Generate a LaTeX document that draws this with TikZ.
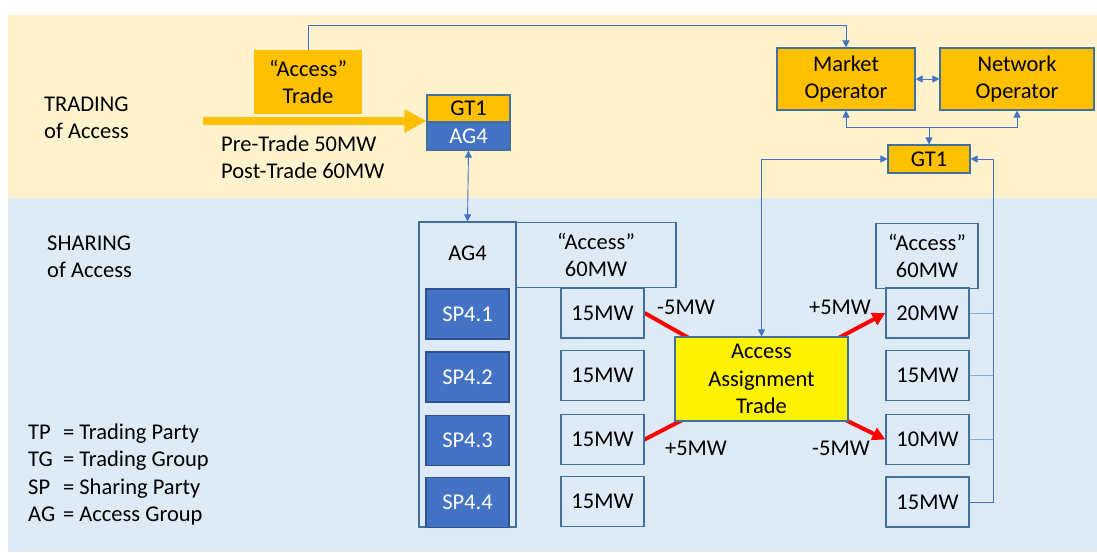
\documentclass[tikz,border=0pt]{standalone}
\usepackage{fontspec}
\setmainfont{Carlito}
\usetikzlibrary{arrows.meta}
\definecolor{bandY}{HTML}{FFF2CC}
\definecolor{bandB}{HTML}{DEEBF7}
\definecolor{orng}{HTML}{FFC000}
\definecolor{blueF}{HTML}{4472C4}
\definecolor{edge}{HTML}{41719C}
\definecolor{edgeD}{HTML}{2F528F}
\definecolor{wire}{HTML}{4472C4}
\definecolor{wireL}{HTML}{8FAADC}
\pgfdeclarelayer{bands}
\pgfdeclarelayer{back}
\pgfsetlayers{bands,back,main}
\tikzset{
  txt/.style={font=\fontsize{22.5}{27.5}\selectfont, inner sep=0pt},
  obox/.style={txt, fill=orng, align=center},
  mwbox/.style={txt, draw=edge, line width=1.1pt, minimum width=83pt, minimum height=50pt},
  spbox/.style={txt, draw=edgeD, line width=1.1pt, fill=blueF, text=white, minimum width=83pt, minimum height=50pt},
  accbox/.style={txt, draw=edge, line width=1.1pt, align=center},
  conn/.style={draw=wire, line width=0.9pt},
  tip/.style={-{Triangle[length=7pt,width=7pt]}},
  tips/.style={{Triangle[length=7pt,width=7pt]}-{Triangle[length=7pt,width=7pt]}},
  redline/.style={draw=red, line width=4pt},
  redtip/.style={-{Triangle[length=13pt,width=13pt]}}
}
\begin{document}
\begin{tikzpicture}[x=1pt,y=-1pt]
\useasboundingbox (0,0) rectangle (1097,552);
\begin{pgfonlayer}{bands}
  \fill[bandY] (8,15) rectangle (1097,197.5);
  \fill[bandB] (8,197.5) rectangle (1097,552);
\end{pgfonlayer}

% side captions
\node[txt, anchor=west, align=left] (tradcap) at (44,118) {TRADING\\of Access};
\node[txt, anchor=west, align=left] (sharcap) at (47,257) {SHARING\\of Access};
\node[txt, anchor=west] (legend) at (28,475) {\begin{tabular}{@{}l@{\hspace{0.35em}}l@{}}
TP & = Trading Party\\
TG & = Trading Group\\
SP & = Sharing Party\\
AG & = Access Group
\end{tabular}};

% trading area
\node[obox, minimum width=108pt, minimum height=64pt] (trade) at (308,82) {\textquotedblleft Access\textquotedblright\\Trade};
\node[txt, fill=orng, draw=edge, line width=1.1pt, minimum width=83pt, minimum height=27pt] (gtA) at (468.5,108.5) {GT1};
\node[txt, fill=blueF, draw=edge, line width=1.1pt, text=white, minimum width=83pt, minimum height=28pt] (agA) at (468.5,136) {AG4};
\coordinate (feed) at (203,121);
\draw[orng, line width=8pt, -{Triangle[length=22pt,width=22pt]}] (feed) -- (feed -| gtA.west);
\node[txt, anchor=west, align=left] (prepost) at (221,157.5) {Pre-Trade 50MW\\Post-Trade 60MW};

\node[obox, draw=edge, line width=1.1pt, minimum width=138pt, minimum height=62pt] (mo) at (846,79) {Market\\Operator};
\node[obox, draw=edge, line width=1.1pt, minimum width=154pt, minimum height=62pt] (no) at (1017,79) {Network\\Operator};
\node[txt, fill=orng, draw=edge, line width=1.1pt, minimum width=82pt, minimum height=28pt] (gtB) at (929,159) {GT1};

\draw[conn, tip] (trade.north) -- ++(0,-24) -| (mo.north);
\draw[conn, tips] (mo.east) -- (no.west);
\coordinate (split) at (929,127);
\draw[conn, tip] (split) -- (gtB.north);
\draw[conn, tip] (split) -| (mo.south);
\draw[conn, tip] (split) -| (no.south);

% sharing area
\node[accbox, minimum width=97pt, minimum height=305pt] (agB) at (467.5,374.5) {};
\node[txt] (agBlbl) at (467.5,253) {AG4};
\draw[conn, tips] (agA.south) -- (agB.north);
\node[accbox, minimum width=160pt, minimum height=65pt] (accL) at (596,255) {\textquotedblleft Access\textquotedblright\\60MW};
\node[accbox, minimum width=102pt, minimum height=65pt] (accR) at (927,256) {\textquotedblleft Access\textquotedblright\\60MW};

\node[spbox] (sp1) at (467.5,314) {SP4.1};
\node[spbox] (sp2) at (467.5,377) {SP4.2};
\node[spbox] (sp3) at (467.5,440.5) {SP4.3};
\node[spbox] (sp4) at (467.5,502.5) {SP4.4};

\node[mwbox] (l1) at (602.5,313) {15MW};
\node[mwbox] (l2) at (602.5,375.5) {15MW};
\node[mwbox] (l3) at (602.5,439.5) {15MW};
\node[mwbox] (l4) at (602.5,501.5) {15MW};

\node[mwbox] (r1) at (927.5,313) {20MW};
\node[mwbox] (r2) at (927.5,375.5) {15MW};
\node[mwbox] (r3) at (927.5,439.5) {10MW};
\node[mwbox] (r4) at (927.5,502) {15MW};

\node[txt, fill=yellow, draw=edge, line width=1.1pt, align=center, minimum width=173pt, minimum height=84pt] (aat) at (761.5,379) {Access\\Assignment\\Trade};

\begin{pgfonlayer}{back}
  \draw[redline] (aat.center) -- (l1.east);
  \draw[redline] (aat.center) -- (l3.east);
  \draw[redline, redtip] (aat.center) -- (r1.west);
  \draw[redline, redtip] (aat.center) -- (r3.west);
\end{pgfonlayer}

\node[txt] (dl1) at (686,307) {-5MW};
\node[txt] (dl3) at (696,448) {+5MW};
\node[txt] (dr1) at (840,307) {+5MW};
\node[txt] (dr3) at (841,448) {-5MW};

\draw[conn, tips] (gtB.west) -| (aat.north);
\coordinate (bus) at (993,159);
\draw[conn, tip] (r4.east) -| (bus) -- (gtB.east);
\draw[draw=wireL, line width=0.8pt] (r1.east) -- (r1.east -| bus);
\draw[draw=wireL, line width=0.8pt] (r2.east) -- (r2.east -| bus);
\draw[draw=wireL, line width=0.8pt] (r3.east) -- (r3.east -| bus);
\end{tikzpicture}
\end{document}
